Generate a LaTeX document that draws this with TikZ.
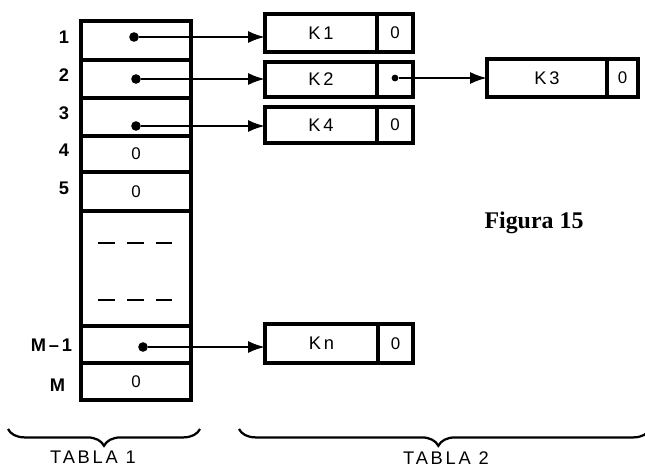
\documentclass[tikz,border=0pt]{standalone}
\usepackage{fontspec}
\setmainfont{Liberation Serif}
\newfontfamily\lblfont[LetterSpace=15]{Liberation Sans}
\usetikzlibrary{arrows.meta, positioning, decorations.pathreplacing}

\begin{document}
\begin{tikzpicture}[x=0.025cm, y=-0.025cm,
    cell/.style={draw, line width=2.2pt, minimum width=2.75cm,
                 inner sep=0pt, outer sep=0pt, font=\lblfont\fontsize{12}{12}\selectfont},
    idx/.style={anchor=east, font=\lblfont\bfseries\fontsize{13}{13}\selectfont},
    key/.style={draw, line width=2.2pt, inner sep=0pt, outer sep=0pt,
                font=\lblfont\fontsize{13}{13}\selectfont},
    nil/.style={key, font=\lblfont\fontsize{12}{12}\selectfont},
    dot/.style={circle, fill, inner sep=0pt, minimum size=0.24cm},
    link/.style={-{Latex[length=0.42cm, width=0.3cm]}, line width=1.6pt},
    gapdash/.style={line width=1.9pt, dash pattern=on 0.42cm off 0.3cm},
    brace/.style={decorate, line width=1.6pt,
                  decoration={brace, mirror, amplitude=0.42cm}},
    tag/.style={font=\lblfont\fontsize{13}{13}\selectfont}
  ]
    \useasboundingbox (0,0) rectangle (645,468);

    % tabla 1: one cell per row
    \foreach \i/\y/\h/\v in {1/40.5/0.975/{}, 2/79/0.95/{}, 3/117/0.95/{},
                             4/154/0.9/0, 5/191.5/0.975/0, g/268.5/2.875/{},
                             m1/344.5/0.925/{}, m/381.5/0.925/0} {
      \node[cell, minimum height=\h cm] (t\i) at (136,\y) {\v};
    }
    \foreach \i/\y in {1/37, 2/75, 3/113, 4/150, 5/188} {
      \node[idx] (n\i) at (74,\y) {\i};
    }
    \node[idx] (nm1) at (77,345) {M–1};
    \node[idx] (nm) at (70,385) {M};

    \draw[gapdash] (98,243) -- (173,243);
    \draw[gapdash] (98,300) -- (173,300);

    % tabla 2: key part plus next pointer
    \node[key, minimum width=2.8cm, minimum height=0.95cm] (k1) at (321,33) {K1};
    \node[nil, minimum width=0.9cm, minimum height=0.95cm, right=0pt of k1] (k1p) {0};
    \node[key, minimum width=2.8cm, minimum height=0.875cm] (k2) at (321,79.5) {K2};
    \node[nil, minimum width=0.9cm, minimum height=0.875cm, right=0pt of k2] (k2p) {};
    \node[key, minimum width=2.8cm, minimum height=0.9cm] (k4) at (321,125) {K4};
    \node[nil, minimum width=0.9cm, minimum height=0.9cm, right=0pt of k4] (k4p) {0};
    \node[key, minimum width=3cm, minimum height=0.95cm] (k3) at (547,78) {K3};
    \node[nil, minimum width=0.775cm, minimum height=0.95cm, right=0pt of k3] (k3p) {0};
    \node[key, minimum width=2.825cm, minimum height=0.975cm] (kn) at (321.5,343.5) {Kn};
    \node[nil, minimum width=0.875cm, minimum height=0.975cm, right=0pt of kn] (knp) {0};

    \node[dot] (d1) at (134,37) {};
    \node[dot] (d2) at (136,79) {};
    \node[dot] (d3) at (136,126) {};
    \node[dot] (dm1) at (143,347) {};
    \node[dot, minimum size=0.17cm] (dk2) at (395,78) {};

    \draw[link] (d1) -- (k1.west |- d1);
    \draw[link] (d2) -- (k2.west |- d2);
    \draw[link] (d3) -- (k4.west |- d3);
    \draw[link] (dm1) -- (kn.west |- dm1);
    \draw[link] (dk2) -- (k3.west |- dk2);

    \node[font=\bfseries\fontsize{17}{17}\selectfont] (fig) at (534,223) {Figura 15};

    \coordinate (b1a) at (8,429);
    \coordinate (b1b) at (200,429);
    \coordinate (b2a) at (239,429);
    \coordinate (b2b) at (650,429);
    \draw[brace] (b1a) -- (b1b);
    \draw[brace, decoration={aspect=0.485}] (b2a) -- (b2b);
    \node[tag] (tab1) at (93,457) {TABLA 1};
    \node[tag] (tab2) at (446,458) {TABLA 2};
  \end{tikzpicture}
\end{document}
